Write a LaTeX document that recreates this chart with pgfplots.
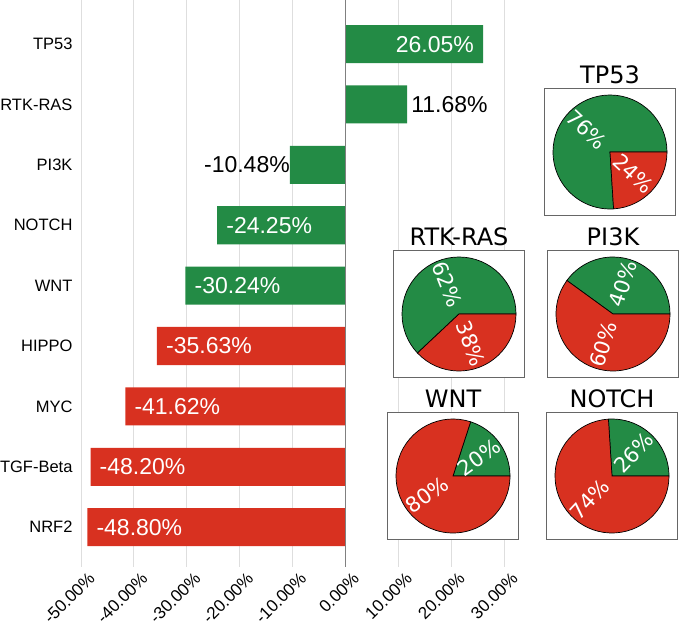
\documentclass[border=0pt]{standalone}
\usepackage{fontspec}
\setmainfont{Liberation Sans}
\newfontfamily\piefont{DejaVu Sans}
\usepackage{pgfplots}
\pgfplotsset{compat=1.18}
\definecolor{pgreen}{RGB}{35,139,69}
\definecolor{pred}{RGB}{216,49,32}
\tikzset{lbl/.style={inner sep=0pt, font=\fontsize{23}{23}\selectfont}}
\newcommand{\pie}[5]{%
\begin{axis}[at={(#1,#2)}, anchor=center, scale only axis, width=131pt, height=127pt,
  xmin=-1, xmax=1, ymin=-1, ymax=1, xtick=\empty, ytick=\empty, clip=false,
  axis line style={draw=black!60, line width=0.8pt},
  axis background/.style={fill=white}]
  \filldraw[fill=pgreen, draw=black, line width=0.7pt] (axis cs:0,0) -- ++(0:57pt) arc[start angle=0, end angle={3.6*#4}, radius=57pt] -- cycle;
  \filldraw[fill=pred, draw=black, line width=0.7pt] (axis cs:0,0) -- ++({3.6*#4}:57pt) arc[start angle={3.6*#4}, end angle=360, radius=57pt] -- cycle;
  \path (axis cs:0,0) ++({1.8*#4}:32pt) node[text=white, inner sep=0pt, font=\piefont\fontsize{21}{21}\selectfont, rotate={(1.8*#4>90) ? (1.8*#4-180) : (1.8*#4)}] {#4\%};
  \path (axis cs:0,0) ++({1.8*#4+180}:32pt) node[text=white, inner sep=0pt, font=\piefont\fontsize{21}{21}\selectfont, rotate={(1.8*#4>90) ? (1.8*#4-180) : (1.8*#4)}] {#5\%};
  \node[anchor=base, inner sep=0pt, font=\piefont\fontsize{24}{24}\selectfont] at (rel axis cs:0.5,1) [yshift=5pt] {#3};
\end{axis}}
\begin{document}
\begin{tikzpicture}
\useasboundingbox (0,0) rectangle (685pt,-636pt);
\begin{axis}[at={(81pt,-567pt)}, anchor=south west, scale only axis, width=423pt, height=567pt,
  xmin=-50, xmax=30, ymin=-0.73, ymax=8.66, y dir=reverse,
  xbar, bar width=0.63, bar shift=0pt,
  axis line style={draw=none}, major tick length=0pt,
  xtick={-50,-40,-30,-20,-10,0,10,20,30},
  xticklabels={-50.00\%,-40.00\%,-30.00\%,-20.00\%,-10.00\%,0.00\%,10.00\%,20.00\%,30.00\%},
  ytick={0,1,2,3,4,5,6,7,8},
  yticklabels={TP53,RTK-RAS,PI3K,NOTCH,WNT,HIPPO,MYC,TGF-Beta,NRF2},
  xmajorgrids, grid style={draw=black!13, line width=0.8pt},
  yticklabel style={font=\fontsize{16.5}{16.5}\selectfont, anchor=east, xshift=-5pt},
  xticklabel style={font=\fontsize{17}{17}\selectfont, rotate=45, anchor=north east, xshift=5pt, yshift=-4pt},
  clip=false]
\addplot[fill=pgreen, draw=none] coordinates {(26.05,0) (11.68,1) (-10.48,2) (-24.25,3) (-30.24,4)};
\addplot[fill=pred, draw=none] coordinates {(-35.63,5) (-41.62,6) (-48.20,7) (-48.80,8)};
\draw[black!50, line width=0.8pt] (axis cs:0,-0.73) -- (axis cs:0,8.66);
\node[lbl, anchor=east, text=white] at (axis cs:26.05,0) [xshift=-9pt] {26.05\%};
\node[lbl, anchor=west] at (axis cs:11.68,1) [xshift=4pt] {11.68\%};
\node[lbl, anchor=east] at (axis cs:-10.48,2) [xshift=0pt] {-10.48\%};
\node[lbl, anchor=west, text=white] at (axis cs:-24.25,3) [xshift=9pt] {-24.25\%};
\node[lbl, anchor=west, text=white] at (axis cs:-30.24,4) [xshift=9pt] {-30.24\%};
\node[lbl, anchor=west, text=white] at (axis cs:-35.63,5) [xshift=9pt] {-35.63\%};
\node[lbl, anchor=west, text=white] at (axis cs:-41.62,6) [xshift=9pt] {-41.62\%};
\node[lbl, anchor=west, text=white] at (axis cs:-48.20,7) [xshift=9pt] {-48.20\%};
\node[lbl, anchor=west, text=white] at (axis cs:-48.80,8) [xshift=9pt] {-48.80\%};
\end{axis}
\pie{610pt}{-152pt}{TP53}{76}{24}
\pie{459pt}{-314pt}{RTK-RAS}{62}{38}
\pie{613pt}{-314pt}{PI3K}{40}{60}
\pie{453pt}{-476pt}{WNT}{20}{80}
\pie{612pt}{-476pt}{NOTCH}{26}{74}
\end{tikzpicture}
\end{document}
